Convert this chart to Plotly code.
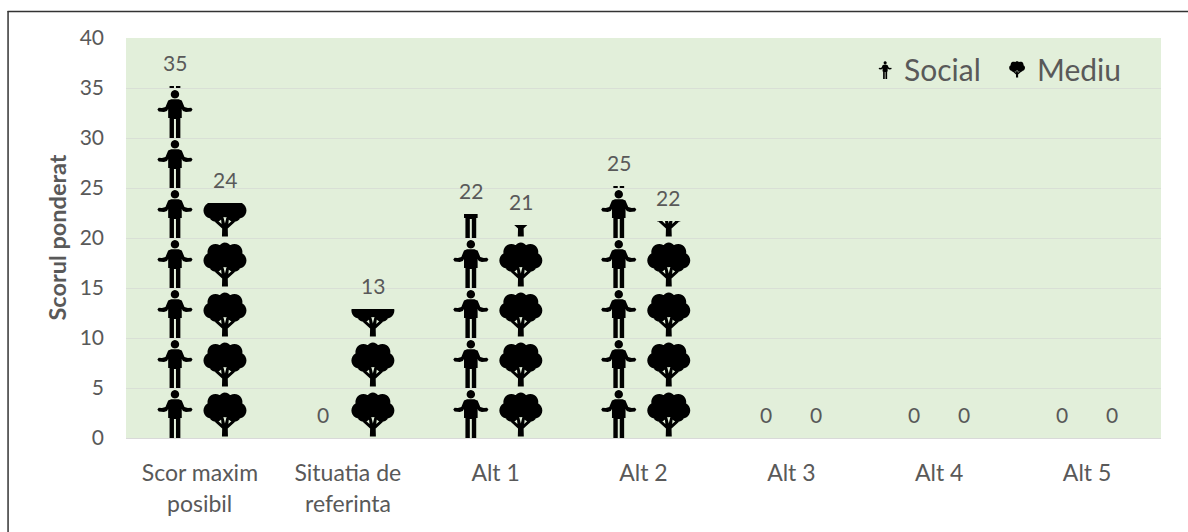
import math
import plotly.graph_objects as go

categories = ["Scor maxim", "Situatia de", "Alt 1", "Alt 2", "Alt 3", "Alt 4", "Alt 5"]
categories_line2 = ["posibil", "referinta", "", "", "", "", ""]
social = [35.2, 0, 22.4, 25.2, 0, 0, 0]
mediu = [23.5, 12.9, 21.3, 21.7, 0, 0, 0]
y_ticks = [0, 5, 10, 15, 20, 25, 30, 35, 40]

W, H = 1188, 532
L, T, PW, PH = 125.5, 38, 1035.5, 400
TILE = 50
STEP = PW / len(categories)
OFF = 25 / STEP
BAR_W = 47 / STEP
FONT = "Lato"
TXT = "#595959"


def circ(cx, cy, r):
    return ("c", cx, cy, r)


def poly(*pts):
    return ("p", pts)


PERSON = [
    circ(0, 6.3, 4.2),
    poly((-3.8, 11.3), (3.8, 11.3), (6.8, 12.6), (9.5, 19), (13, 20), (16.2, 19.8), (17.6, 21.6), (16.2, 23.6),
         (11, 24), (8, 23), (6.8, 21), (6.8, 30), (5.4, 30), (5.4, 50), (1, 50), (1, 31), (-1, 31),
         (-1, 50), (-5.4, 50), (-5.4, 30), (-6.8, 30), (-6.8, 21), (-8, 23), (-11, 24), (-16.2, 23.6),
         (-17.6, 21.6), (-16.2, 19.8), (-13, 20), (-9.5, 19), (-6.8, 12.6)),
]
TREE = [
    circ(0, 11, 6.4), circ(-9.5, 14, 8), circ(9.5, 14, 8),
    circ(-13.5, 22.5, 8), circ(13.5, 22.5, 8), circ(-9, 26.2, 7.5), circ(9, 26.2, 7.5), circ(0, 18, 11.2),
    poly((-2.8, 40.5), (-11, 33), (-8.5, 31.2), (-3.4, 36), (-4.2, 28), (-1.8, 28), (0, 35.5), (1.8, 28), (4.2, 28),
         (3.4, 36), (8.5, 31.2), (11, 33), (2.8, 40.5), (3, 48.5), (-3, 48.5)),
]


def icon_path(parts, dx=0.0, dy=0.0, s=1.0, fx=lambda v: v, fy=lambda v: v):
    out = []
    for part in parts:
        if part[0] == "c":
            _, cx, cy, r = part
            n = 24
            pts = [(cx + r * math.cos(2 * math.pi * k / n), cy + r * math.sin(2 * math.pi * k / n)) for k in range(n)]
        else:
            pts = part[1]
        out.append("M" + "L".join(f"{fx(dx + s * x):.4f},{fy(dy + s * y):.4f}" for x, y in pts) + "Z")
    return "".join(out)


def tile_path(parts, x_val):
    """Pattern tiles start at the plot origin, so phase the icon to sit on the bar centre."""
    centre = (x_val + 0.5) * STEP
    phase = centre % TILE
    return icon_path(parts, phase) + icon_path(parts, phase - TILE) + icon_path(parts, phase + TILE)


xs = list(range(len(categories)))
x_social = [i - OFF for i in xs]
x_mediu = [i + OFF for i in xs]

fig = go.Figure()
for xv, yv, icon, name in ((x_social, social, PERSON, "Social"), (x_mediu, mediu, TREE, "Mediu")):
    fig.add_trace(go.Bar(
        x=xv, y=yv, width=BAR_W, name=name, showlegend=False, hoverinfo="skip",
        marker=dict(
            color="rgba(0,0,0,0)", line=dict(width=0),
            pattern=dict(path=[tile_path(icon, v) for v in xv], size=TILE, solidity=1,
                         fgcolor="#000000", bgcolor="rgba(0,0,0,0)", fgopacity=1),
        ),
    ))

annotations = []
for xv, yv in ((x_social, social), (x_mediu, mediu)):
    for a, b in zip(xv, yv):
        annotations.append(dict(x=a, y=b, xref="x", yref="y", text=f"{round(b)}", showarrow=False, yshift=24,
                                yanchor="middle", font=dict(family=FONT, size=21, color=TXT)))

for i, line in zip(xs, categories_line2):
    if line:
        annotations.append(dict(x=i, y=0, xref="x", yref="y", text=line, showarrow=False, yshift=-65,
                                yanchor="middle", font=dict(family=FONT, size=23, color=TXT)))


def px_x(p):
    return (p - L) / PW


def px_y(p):
    return (T + PH - p) / PH


annotations += [
    dict(x=px_x(902), y=px_y(69), xref="paper", yref="paper", text="Social", showarrow=False, xanchor="left",
         yanchor="middle", font=dict(family=FONT, size=30, color=TXT)),
    dict(x=px_x(1035), y=px_y(69), xref="paper", yref="paper", text="Mediu", showarrow=False, xanchor="left",
         yanchor="middle", font=dict(family=FONT, size=30, color=TXT)),
    dict(x=px_x(56), y=px_y(238), xref="paper", yref="paper", text="<b>Scorul ponderat</b>", showarrow=False,
         textangle=-90, font=dict(family=FONT, size=23.5, color=TXT), xanchor="center", yanchor="middle"),
]

border = dict(color="#333333", width=1.5)
shapes = [
    dict(type="line", xref="paper", yref="paper", x0=px_x(7), x1=px_x(1188), y0=px_y(11.5), y1=px_y(11.5), line=border),
    dict(type="line", xref="paper", yref="paper", x0=px_x(7.5), x1=px_x(7.5), y0=px_y(11), y1=px_y(532), line=border),
    dict(type="path", xref="paper", yref="paper", path=icon_path(PERSON, 885, 60.5, 0.37, px_x, px_y),
         fillcolor="#000000", fillrule="nonzero", line=dict(width=0)),
    dict(type="path", xref="paper", yref="paper", path=icon_path(TREE, 1017, 59.5, 0.37, px_x, px_y),
         fillcolor="#000000", fillrule="nonzero", line=dict(width=0)),
]

fig.update_layout(
    width=W, height=H, autosize=False,
    margin=dict(l=L, r=W - L - PW, t=T, b=H - T - PH, pad=0),
    paper_bgcolor="#ffffff", plot_bgcolor="#E2EFDA",
    barmode="overlay", bargap=0,
    showlegend=False,
    annotations=annotations, shapes=shapes,
    font=dict(family=FONT, color=TXT),
    xaxis=dict(range=[-0.5, len(categories) - 0.5], tickmode="array", tickvals=xs, ticktext=categories,
               ticks="", showgrid=False, zeroline=False, showline=False, ticklabelstandoff=19,
               tickfont=dict(family=FONT, size=23, color=TXT), ticklen=0),
    yaxis=dict(range=[0, 40], tickmode="array", tickvals=y_ticks, ticks="", gridcolor="#D9DFD6", gridwidth=1,
               zeroline=True, zerolinecolor="#D9D9D9", zerolinewidth=1, showline=False, ticklabelstandoff=21,
               tickfont=dict(family=FONT, size=21, color=TXT)),
)
fig.write_html("out.html", post_script="document.body.style.margin='0';document.body.style.overflow='hidden';",
               config={"displayModeBar": False})
